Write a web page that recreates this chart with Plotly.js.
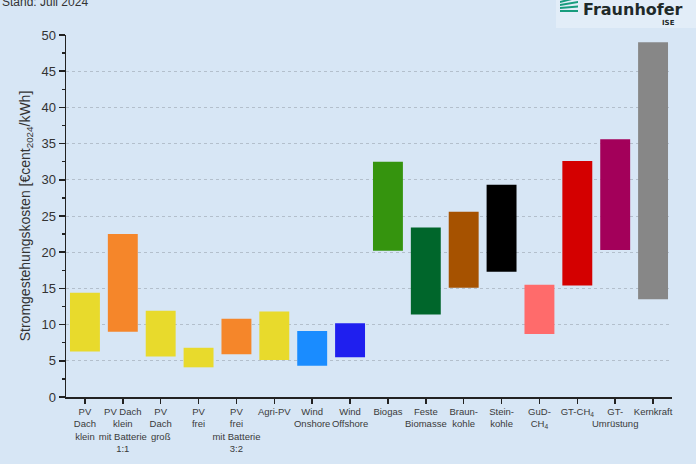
<!DOCTYPE html>
<html>
<head>
<meta charset="utf-8">
<script src="https://cdn.plot.ly/plotly-3.0.1.min.js"></script>
<style>html,body{margin:0;padding:0;background:#d7e6f5;}#chart{width:696px;height:464px;}</style>
</head>
<body>
<div id="chart"></div>
<script>
const categories = [
  "PV<br>Dach<br>klein",
  "PV Dach<br>klein<br>mit Batterie<br>1:1",
  "PV<br>Dach<br>groß",
  "PV<br>frei",
  "PV<br>frei<br>mit Batterie<br>3:2",
  "Agri-PV",
  "Wind<br>Onshore",
  "Wind<br>Offshore",
  "Biogas",
  "Feste<br>Biomasse",
  "Braun-<br>kohle",
  "Stein-<br>kohle",
  "GuD-<br>CH<sub>4</sub>",
  "GT-CH<sub>4</sub>",
  "GT-<br>Umrüstung",
  "Kernkraft"
];
const lowValues  = [6.3, 9.0, 5.6, 4.1, 5.9, 5.1, 4.3, 5.5, 20.2, 11.4, 15.1, 17.3, 8.7, 15.4, 20.3, 13.5];
const highValues = [14.4, 22.5, 11.9, 6.8, 10.8, 11.8, 9.1, 10.2, 32.5, 23.4, 25.6, 29.3, 15.5, 32.6, 35.6, 49.0];
const barColors = ["#e8da2c","#f5862a","#e8da2c","#e8da2c","#f5862a","#e8da2c","#1a8cff","#1f1fef",
                   "#35940e","#00662b","#a65200","#000000","#ff6b6b","#d40000","#a3005a","#878787"];
const yTickVals = [0,5,10,15,20,25,30,35,40,45,50];

const idx = categories.map((c,i)=>i);
const trace = {
  type: "bar",
  x: idx,
  base: lowValues,
  y: highValues.map((h,i)=>h-lowValues[i]),
  width: 0.79,
  marker: {color: barColors, line: {width: 0}},
  hoverinfo: "skip"
};
const bg = "#d7e6f5";
const layout = {
  width: 696, height: 464,
  paper_bgcolor: bg, plot_bgcolor: bg,
  margin: {l: 66, r: 24, t: 35, b: 67},
  showlegend: false,
  font: {family: "Liberation Sans, Arial, sans-serif", color: "#333"},
  xaxis: {
    range: [-0.5, 15.5],
    tickvals: idx, ticktext: categories,
    ticks: "outside", ticklen: 5, tickwidth: 1.5, tickcolor: "#222",
    showline: true, linecolor: "#222", linewidth: 1.5,
    showgrid: false, zeroline: false,
    tickfont: {size: 9.5, color: "#3a3a3a"},
    tickangle: 0
  },
  yaxis: {
    range: [0, 50],
    tickvals: yTickVals,
    ticks: "outside", ticklen: 6, tickwidth: 1.5, tickcolor: "#222",
    minor: {dtick: 2.5, ticks: "outside", ticklen: 3, tickwidth: 1.5, tickcolor: "#222", showgrid: false},
    showline: true, linecolor: "#222", linewidth: 1.5,
    showgrid: true, gridcolor: "#b3bfcc", griddash: "dot", gridwidth: 1,
    zeroline: false,
    tickfont: {size: 13, color: "#333"},
    title: {text: "Stromgestehungskosten [€cent<sub>2024</sub>/kWh]", font: {size: 14, color: "#333"}, standoff: 7}
  },
  annotations: [
    {text: "Stand: Juli 2024", xref: "paper", yref: "paper", x: -66/606, y: 1, xanchor: "left", yanchor: "bottom", yshift: 24, showarrow: false, font: {size: 12, color: "#333"}},
    {text: "<b>Fraunhofer</b>", xref: "paper", yref: "paper", x: (581-66)/606, y: 1, xanchor: "left", yanchor: "bottom", yshift: 14, showarrow: false, font: {size: 16, color: "#1f2a2a", family: "DejaVu Sans, sans-serif"}},
    {text: "<b>ISE</b>", xref: "paper", yref: "paper", x: (677-66)/606, y: 1, xanchor: "right", yanchor: "bottom", yshift: 6, showarrow: false, font: {size: 7, color: "#1f2a2a", family: "DejaVu Sans, sans-serif"}}
  ]
};
// Fraunhofer logo mark (decorative)
const logoShapes = [];
logoShapes.push({type:"rect", xref:"paper", yref:"paper", x0:(556-66)/606, x1:(700-66)/606, y0:1+ (35-28)/362, y1:1+40/362, line:{width:0}, fillcolor:"#e2edf8", layer:"below"});
for (let k=0;k<4;k++){
  const y0 = 1 + (35-12+k*3)/362, y1 = y0 + 2/362;
  logoShapes.push({type:"path", xref:"paper", yref:"paper",
    path: `M ${(560-66)/606} ${y0} L ${(578-66)/606} ${y0+ (k*1.5)/362} L ${(578-66)/606} ${y1+(k*1.5)/362} L ${(560-66)/606} ${y1} Z`,
    line:{width:0}, fillcolor:"#179c7d"});
}
layout.shapes = logoShapes;
Plotly.newPlot("chart", [trace], layout, {displayModeBar: false, staticPlot: true});
</script>
</body>
</html>
